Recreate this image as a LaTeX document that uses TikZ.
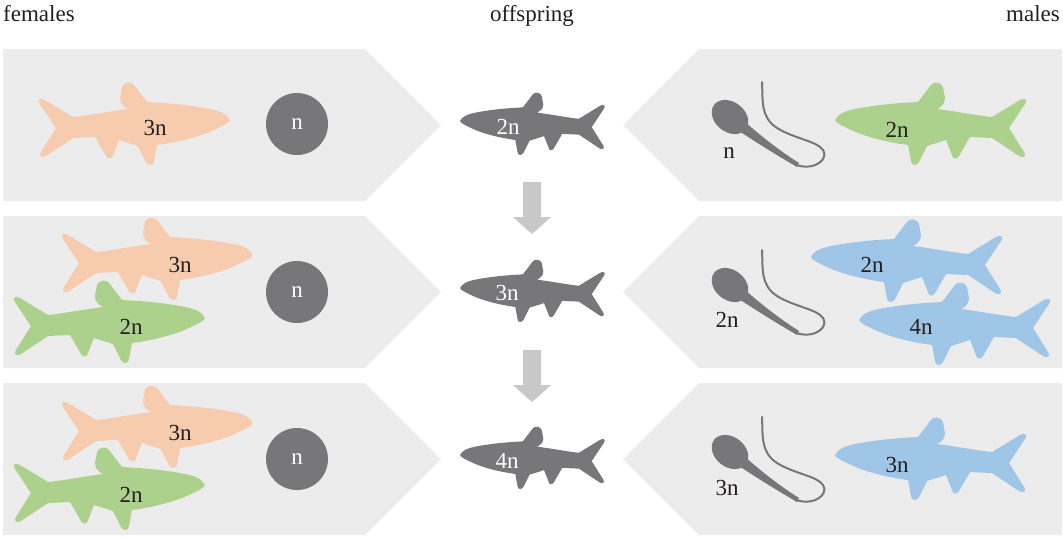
\documentclass[tikz,border=0pt]{standalone}
\usepackage{fontspec}
\setmainfont{Liberation Serif}
\definecolor{panel}{HTML}{ECECEC}
\definecolor{dark}{HTML}{77777A}
\definecolor{peach}{HTML}{F7CBAE}
\definecolor{leaf}{HTML}{ABD18D}
\definecolor{sky}{HTML}{9FC5E7}
\definecolor{arrowgray}{HTML}{C8C8C8}
\definecolor{ink}{HTML}{231F20}
\begin{document}
\begin{tikzpicture}[x=1pt,y=-1pt,
  lbl/.style={font=\fontsize{23}{27}\selectfont, text=ink, inner sep=0pt},
  wlbl/.style={lbl, text=white},
  head/.style={font=\fontsize{23}{27}\selectfont, text=ink, inner sep=0pt},
  cell/.style={circle, fill=dark, minimum size=62pt, inner sep=0pt,
    font=\fontsize{23}{27}\selectfont, text=white},
  % a fish facing left, nose at the origin
  pics/fish/.style={code={
    \fill[#1] (0,0)
      .. controls (3,-6) and (10,-9) .. (20,-11)
      .. controls (40,-15) and (62,-17) .. (83,-18)
      -- (96,-35)
      .. controls (99,-39) and (106,-38) .. (108,-33)
      -- (110,-22)
      .. controls (110,-16) and (106,-13) .. (102,-11)
      .. controls (125,-8) and (145,-4) .. (157,-3)
      -- (185,-20)
      .. controls (190,-23) and (193,-20) .. (190,-16)
      -- (174,8)
      -- (189,32)
      .. controls (192,36) and (188,39) .. (184,36)
      -- (157,18)
      -- (135,17)
      -- (124,36)
      .. controls (122,40) and (117,39) .. (117,35)
      -- (111,20)
      .. controls (105,22) and (98,24) .. (92,26)
      -- (84,42)
      .. controls (82,46) and (76,46) .. (76,41)
      -- (73,25)
      .. controls (50,22) and (28,16) .. (14,9)
      .. controls (6,5) and (1,3) .. (0,0)
      -- cycle;
  }},
  % a sperm cell, head centre at the origin
  pics/sperm/.style={code={
    \fill[dark, rotate=-38] (0,0) ellipse [x radius=20, y radius=15];
    \fill[dark] (6,12) .. controls (30,28) and (50,40) .. (67,50)
      -- (69,46) .. controls (50,34) and (32,20) .. (14,4) -- cycle;
    \draw[dark, line width=2pt, line cap=round]
      (66,48) .. controls (85,54) and (99,42) .. (93,33)
      .. controls (87,24) and (65,22) .. (47,11)
      .. controls (30,0) and (33,-18) .. (32,-35);
  }},
  % a broad downward arrow, top centre at the origin
  pics/downarrow/.style={code={
    \fill[arrowgray] (-9,0) -- (9,0) -- (9,35) -- (19,35) -- (0,52)
      -- (-19,35) -- (-9,35) -- cycle;
  }}
]
\useasboundingbox (0,0) rectangle (1063,539);

% column headings
\node[head, anchor=base west] (hfem) at (3,21) {females};
\node[head, anchor=base] (hoff) at (532,21) {offspring};
\node[head, anchor=base east] (hmal) at (1060,21) {males};

% pointed panels on both sides of each row
\foreach \c in {125,292,459} {
  \fill[panel] (3,\c-76) -- (365,\c-76) -- (441,\c) -- (365,\c+76) -- (3,\c+76) -- cycle;
  \fill[panel] (1062,\c-76) -- (699,\c-76) -- (623,\c) -- (699,\c+76) -- (1062,\c+76) -- cycle;
}

% row 1
\pic[xscale=-1] at (230,120) {fish=peach};
\node[lbl] (f1a) at (155,128) {3n};
\node[cell] (e1) at (297,124) {n};
\pic[scale=0.757] at (460,121) {fish=dark};
\node[wlbl] (o1) at (508,127) {2n};
\pic at (730,117) {sperm};
\node[lbl] (s1) at (729,153) {n};
\pic at (835,120) {fish=leaf};
\node[lbl] (m1a) at (897,130) {2n};

% row 2
\pic[xscale=-1] at (253,255) {fish=peach};
\node[lbl] (f2a) at (180,265) {3n};
\pic[xscale=-1] at (205,318) {fish=leaf};
\node[lbl] (f2b) at (131,327) {2n};
\node[cell] (e2) at (297,292) {n};
\pic[scale=0.757] at (460,288) {fish=dark};
\node[wlbl] (o2) at (507,293) {3n};
\pic at (730,285) {sperm};
\node[lbl] (s2) at (727,320) {2n};
\pic at (811,257) {fish=sky};
\node[lbl] (m2a) at (872,265) {2n};
\pic at (859,320) {fish=sky};
\node[lbl] (m2b) at (921,327) {4n};

% row 3
\pic[xscale=-1] at (253,423) {fish=peach};
\node[lbl] (f3a) at (180,433) {3n};
\pic[xscale=-1] at (205,485) {fish=leaf};
\node[lbl] (f3b) at (131,495) {2n};
\node[cell] (e3) at (297,459) {n};
\pic[scale=0.757] at (460,455) {fish=dark};
\node[wlbl] (o3) at (507,461) {4n};
\pic at (730,452) {sperm};
\node[lbl] (s3) at (727,488) {3n};
\pic at (835,455) {fish=sky};
\node[lbl] (m3a) at (897,465) {3n};

% generation arrows between the offspring
\coordinate (g1) at (532,182);
\coordinate (g2) at (532,350);
\pic at (g1) {downarrow};
\pic at (g2) {downarrow};
\end{tikzpicture}
\end{document}
